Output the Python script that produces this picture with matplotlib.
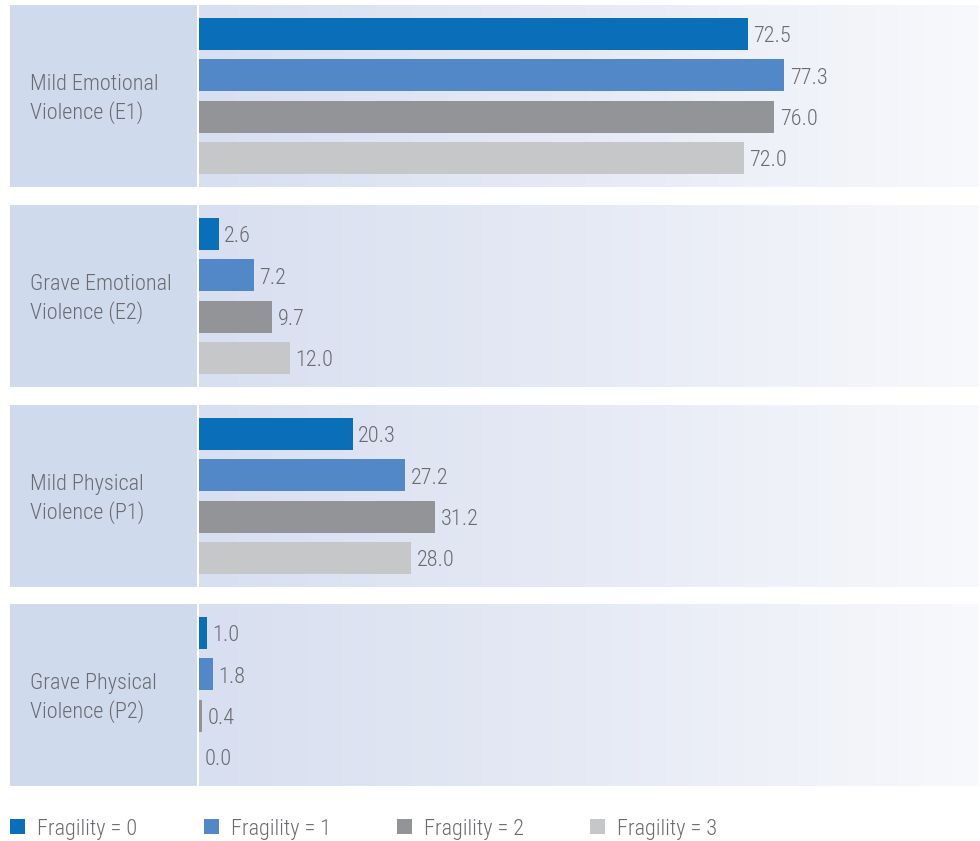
import numpy as np
import matplotlib
matplotlib.use("Agg")
import matplotlib.pyplot as plt
from matplotlib import font_manager
from matplotlib.patches import Rectangle
from matplotlib.colors import LinearSegmentedColormap

# ---- data ----
categories = ["Mild Emotional\nViolence (E1)", "Grave Emotional\nViolence (E2)",
              "Mild Physical\nViolence (P1)", "Grave Physical\nViolence (P2)"]
series_names = ["Fragility = 0", "Fragility = 1", "Fragility = 2", "Fragility = 3"]
fragility0 = [72.5, 2.6, 20.3, 1.0]
fragility1 = [77.3, 7.2, 27.2, 1.8]
fragility2 = [76.0, 9.7, 31.2, 0.4]
fragility3 = [72.0, 12.0, 28.0, 0.0]
series = [fragility0, fragility1, fragility2, fragility3]
colors = ["#0a6eb9", "#5288c8", "#939497", "#c6c7c9"]

# ---- font ----
family = "Roboto"
for cand in ["Roboto Condensed", "Liberation Sans Narrow", "Roboto"]:
    try:
        font_manager.findfont(font_manager.FontProperties(family=cand), fallback_to_default=False)
        family = cand
        break
    except Exception:
        pass
plt.rcParams["font.family"] = [family, "DejaVu Sans"]
TXT = "#6b6b70"
FS = 16
WEIGHT = "light"

W, H = 980, 841
fig = plt.figure(figsize=(W / 100, H / 100), dpi=100)

def fx(px):
    return px / W

def fy(py):
    return 1 - py / H

panel_tops = [5, 205, 405, 604]
panel_h = 182
plot_left, plot_right = 199, 978
xmax = (plot_right - plot_left) / 7.57

grad = np.linspace(0, 1, 256).reshape(1, -1)
bgcmap = LinearSegmentedColormap.from_list("bg", ["#d8dff0", "#e6eaf5", "#f8f9fc"])

bar_centers = [29, 70.3, 111.6, 152.9]
bar_h = 32

for pi, top in enumerate(panel_tops):
    fig.patches.append(Rectangle((fx(10), fy(top + panel_h)), fx(197) - fx(10), panel_h / H,
                                 transform=fig.transFigure, facecolor="#cfdaed",
                                 edgecolor="none", zorder=0))
    fig.text(fx(30), fy(top + panel_h / 2 + 3), categories[pi], ha="left", va="center",
             fontsize=FS, color=TXT, linespacing=1.38, fontweight=WEIGHT)
    ax = fig.add_axes([fx(plot_left), fy(top + panel_h), (plot_right - plot_left) / W, panel_h / H])
    ax.set_xlim(0, xmax)
    ax.set_ylim(panel_h, 0)
    ax.imshow(grad, cmap=bgcmap, aspect="auto", extent=[0, xmax, panel_h, 0], zorder=0)
    for si, vals in enumerate(series):
        v = vals[pi]
        ax.barh(bar_centers[si], v, height=bar_h, color=colors[si], zorder=2)
        ax.annotate(f"{v:.1f}", xy=(v, bar_centers[si]), xytext=(4, -2),
                    textcoords="offset points", ha="left", va="center",
                    fontsize=FS, color=TXT, zorder=3, fontweight=WEIGHT)
    ax.set_axis_off()

# legend
leg_x = [10, 204, 397, 590]
for i, name in enumerate(series_names):
    fig.patches.append(Rectangle((fx(leg_x[i]), fy(834)), 15 / W, 15 / H,
                                 transform=fig.transFigure, facecolor=colors[i],
                                 edgecolor="none"))
    fig.text(fx(leg_x[i] + 27), fy(829), name, ha="left", va="center",
             fontsize=FS, color=TXT, fontweight=WEIGHT)

fig.savefig("out.png", dpi=100, facecolor="white")
